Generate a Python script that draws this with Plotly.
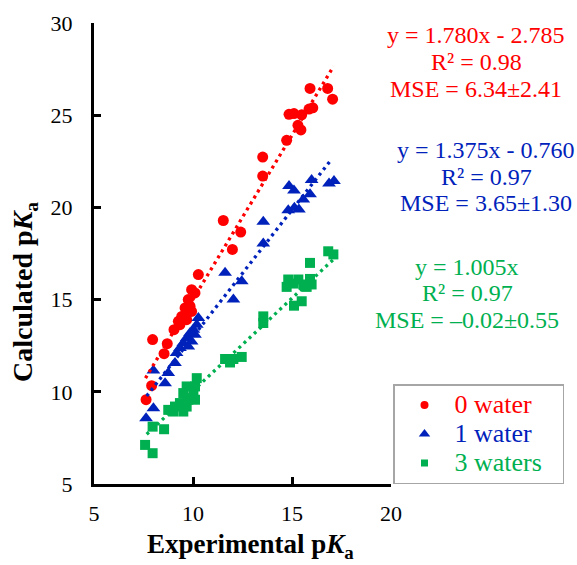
import plotly.graph_objects as go

# ---- data ----
x0 = [7.63, 7.91, 7.96, 8.54, 8.70, 9.04, 9.26, 9.34, 9.43, 9.60, 9.68, 9.60, 9.85, 9.93, 9.76,
      9.93, 10.10, 10.27, 11.53, 11.99, 12.41, 13.52, 13.52, 14.73, 14.85, 15.10, 15.30, 15.45,
      15.49, 15.86, 16.05, 15.91, 16.80, 17.05]
y0 = [9.57, 10.33, 12.83, 12.07, 12.61, 13.37, 13.82, 13.64, 14.09, 14.18, 13.91, 14.55, 14.64, 14.36, 15.00,
      15.54, 15.36, 16.36, 19.29, 17.72, 18.66, 21.70, 22.73, 23.64, 25.05, 25.09, 24.45, 24.20,
      25.02, 25.33, 25.40, 26.45, 26.45, 25.87]

x1 = [7.63, 8.00, 8.59, 8.00, 8.75, 9.09, 9.17, 9.34, 9.51, 9.76, 9.68, 9.93, 9.85, 10.10, 10.02,
      10.19, 10.27, 12.04, 12.46, 11.62, 13.55, 13.55, 14.81, 15.12, 15.35, 15.57, 15.91, 14.85,
      15.10, 15.99, 16.87, 17.12]
y1 = [8.57, 9.11, 10.47, 11.16, 11.02, 11.56, 12.10, 12.37, 12.65, 12.46, 12.92, 12.73, 13.19, 13.10, 13.37,
      13.64, 14.00, 15.00, 15.99, 16.45, 18.04, 19.22, 19.85, 19.98, 19.89, 20.43, 20.71, 21.16,
      20.92, 21.48, 21.30, 21.43]

x3 = [7.58, 7.96, 7.96, 8.54, 8.75, 9.00, 9.09, 9.34, 9.51, 9.68, 9.76, 10.10, 9.51, 10.02, 9.68,
      10.10, 10.19, 11.62, 11.87, 12.04, 12.46, 13.55, 13.55, 15.10, 15.49, 14.73, 15.07, 15.74,
      15.57, 14.81, 15.32, 15.91, 15.99, 15.91, 16.83, 17.09]
y3 = [7.12, 6.67, 8.11, 7.97, 9.02, 8.93, 9.20, 9.39, 8.93, 9.20, 9.57, 9.57, 9.93, 9.93, 10.29,
      10.29, 10.74, 11.78, 11.59, 11.78, 11.89, 13.73, 14.09, 14.67, 14.91, 15.69, 15.87, 15.69,
      15.82, 16.09, 16.09, 16.12, 15.82, 16.99, 17.62, 17.45]

series_names = ["0 water", "1 water", "3 waters"]
slopes = [1.780, 1.375, 1.005]
intercepts = [-2.785, -0.760, 0.0]
fit_x_start = [7.60, 7.66, 7.66]
fit_x_end = [17.10, 16.95, 17.10]

fit_text = [
    ["y = 1.780x - 2.785", "R² = 0.98", "MSE = 6.34±2.41"],
    ["y = 1.375x - 0.760", "R² = 0.97", "MSE = 3.65±1.30"],
    ["y = 1.005x", "R² = 0.97", "MSE = –0.02±0.55"],
]

x_ticks = [5, 10, 15, 20]
y_ticks = [5, 10, 15, 20, 25, 30]

colors = ["#FF0000", "#0022BB", "#00B050"]
symbols = ["circle", "triangle-up", "square"]
sizes = [11, 12, 10]
legend_sizes = [8, 10, 7]

FONT = "Times New Roman, Liberation Serif, serif"

fig = go.Figure()

xs = [x0, x1, x3]
ys = [y0, y1, y3]
for i in range(3):
    fig.add_trace(go.Scatter(
        x=xs[i], y=ys[i], mode="markers", showlegend=False, name=series_names[i],
        marker=dict(symbol=symbols[i], size=sizes[i], color=colors[i], line=dict(width=0)),
    ))

for i in range(3):
    lx = [fit_x_start[i], fit_x_end[i]]
    ly = [slopes[i] * v + intercepts[i] for v in lx]
    fig.add_trace(go.Scatter(
        x=lx, y=ly, mode="lines", showlegend=False, hoverinfo="skip",
        line=dict(color=colors[i], width=3.3, dash="3px,4px"),
    ))

# legend entries (smaller symbols as in the reference)
pad = "\u00a0" * 3
for i in range(3):
    fig.add_trace(go.Scatter(
        x=[None], y=[None], mode="markers",
        name=f'<span style="color:{colors[i]};font-size:26px">{series_names[i]}</span>{pad}',
        marker=dict(symbol=symbols[i], size=legend_sizes[i], color=colors[i]),
    ))

L, R, T, B = 94, 186, 23, 81
W, H = 577, 565
pw, ph = W - L - R, H - T - B

def px2paper(px, py):
    return (px - L) / pw, (H - B - py) / ph

anns = []
centers = [(476, [35, 62, 88.5]), (486, [150, 177, 203]), (467, [267, 293, 320])]
for i in range(3):
    cx, rows = centers[i]
    for j in range(3):
        ax, ay = px2paper(cx, rows[j])
        anns.append(dict(x=ax, y=ay, xref="paper", yref="paper", text=fit_text[i][j],
                         showarrow=False, xanchor="center", yanchor="middle",
                         font=dict(family=FONT, size=24, color=colors[i])))

tx, ty = px2paper(250, 546)
anns.append(dict(x=tx, y=ty, xref="paper", yref="paper",
                 text="<b>Experimental p<i>K</i><sub>a</sub></b>", showarrow=False,
                 xanchor="center", yanchor="middle", font=dict(family=FONT, size=27, color="black")))
tx, ty = px2paper(24, 292)
anns.append(dict(x=tx, y=ty, xref="paper", yref="paper", textangle=-90,
                 text="<b>Calculated p<i>K</i><sub>a</sub></b>", showarrow=False,
                 xanchor="center", yanchor="middle", font=dict(family=FONT, size=28, color="black")))

fig.update_layout(
    width=W, height=H, autosize=False,
    margin=dict(l=L, r=R, t=T, b=B, pad=0),
    paper_bgcolor="white", plot_bgcolor="white",
    font=dict(family=FONT, size=22, color="black"),
    xaxis=dict(range=[5, 20], tickvals=x_ticks, ticktext=[str(v) for v in x_ticks],
               showgrid=False, zeroline=False, showline=True, linecolor="black", linewidth=3,
               ticks="inside", ticklen=7, tickwidth=3, tickcolor="black", automargin=False,
               ticklabelstandoff=8, tickfont=dict(family=FONT, size=22, color="black")),
    yaxis=dict(range=[5, 30], tickvals=y_ticks, ticktext=[str(v) for v in y_ticks],
               showgrid=False, zeroline=False, showline=True, linecolor="black", linewidth=3,
               ticks="inside", ticklen=7, tickwidth=3, tickcolor="black", automargin=False,
               ticklabelstandoff=14, tickfont=dict(family=FONT, size=22, color="black")),
    legend=dict(xref="container", yref="container", x=393 / W, y=1 - 384 / H,
                xanchor="left", yanchor="top",
                bordercolor="#A6A6A6", borderwidth=1.5, bgcolor="white",
                itemwidth=50, font=dict(family=FONT, size=20)),
    annotations=anns,
    showlegend=True,
)

fig.write_html("out.html", config={"displayModeBar": False},
               post_script="document.body.style.margin='0px';")
